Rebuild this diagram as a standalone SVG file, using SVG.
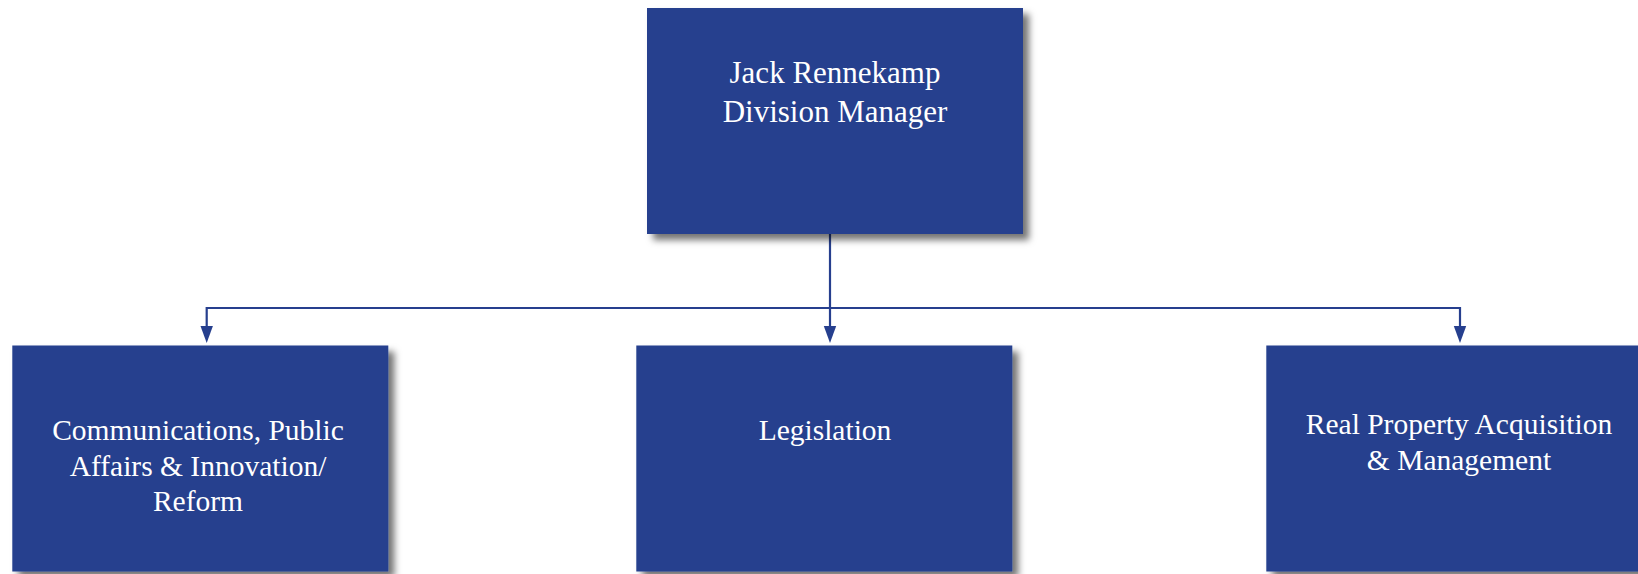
<svg xmlns="http://www.w3.org/2000/svg" width="1638" height="574" viewBox="0 0 1638 574">
<style>
.box{fill:#263f8e;}
.t{font-family:"Liberation Serif","Times New Roman",serif;fill:#ffffff;text-anchor:middle;}
.t1{font-size:31px;}
.t2{font-size:29.5px;}
.c{fill:none;stroke:#263f8e;stroke-width:2.2;}
.ah{fill:#263f8e;}
</style>
<defs>
<filter id="sh" x="-10%" y="-10%" width="130%" height="130%">
<feDropShadow dx="6" dy="6" stdDeviation="3.5" flood-color="#000" flood-opacity="0.55"/>
</filter>
</defs>
<g id="connectors">
<path class="c" d="M830,234 V308"/>
<path class="c" d="M830,308 H206.7 V330"/>
<path class="c" d="M830,308 V330"/>
<path class="c" d="M830,308 H1460 V330"/>
<polygon class="ah" points="200.5,326 212.9,326 206.7,343"/>
<polygon class="ah" points="823.8,326 836.2,326 830,343"/>
<polygon class="ah" points="1453.8,326 1466.2,326 1460,343"/>
</g>
<g id="manager">
<rect class="box" x="647" y="8" width="376" height="226" filter="url(#sh)"/>
<text class="t t1" x="835" y="83">Jack Rennekamp</text>
<text class="t t1" x="835" y="122">Division Manager</text>
</g>
<g id="communications">
<rect class="box" x="12.3" y="345.5" width="376" height="226" filter="url(#sh)"/>
<text class="t t2" x="198" y="440">Communications, Public</text>
<text class="t t2" x="198" y="475.5">Affairs &amp; Innovation/</text>
<text class="t t2" x="198" y="511">Reform</text>
</g>
<g id="legislation">
<rect class="box" x="636.3" y="345.5" width="376" height="226" filter="url(#sh)"/>
<text class="t t2" x="825" y="440">Legislation</text>
</g>
<g id="realproperty">
<rect class="box" x="1266.3" y="345.5" width="376" height="226" filter="url(#sh)"/>
<text class="t t2" x="1459" y="434">Real Property Acquisition</text>
<text class="t t2" x="1459" y="470">&amp; Management</text>
</g>
</svg>
